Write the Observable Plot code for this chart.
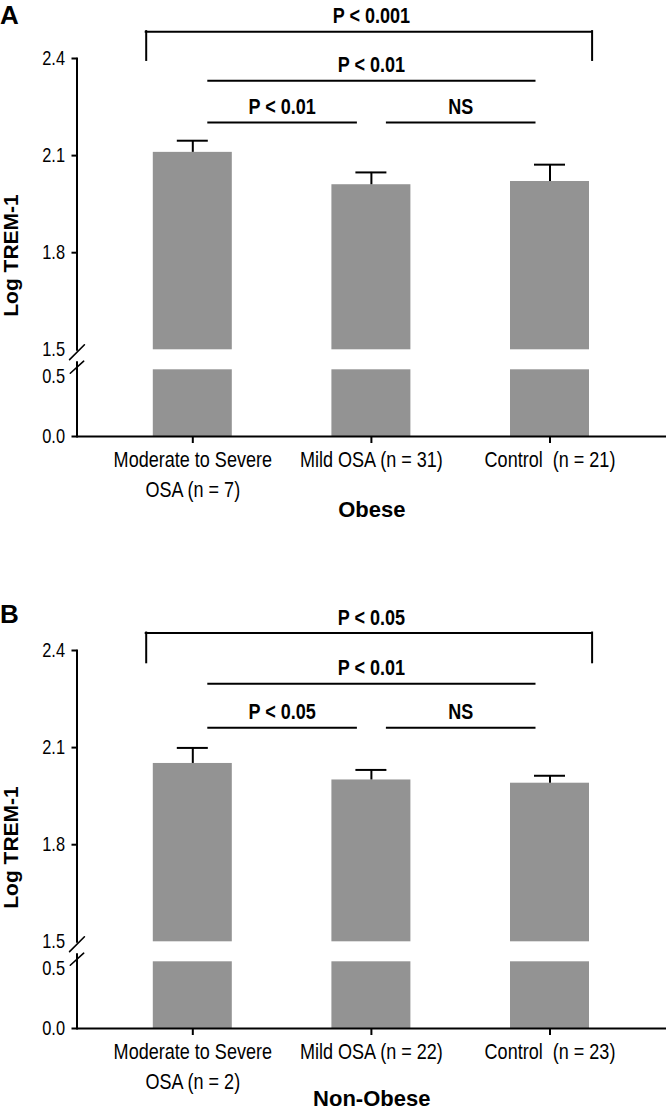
<!DOCTYPE html>
<html><head><meta charset="utf-8">
<script src="https://cdn.jsdelivr.net/npm/d3@7"></script>
<script src="https://cdn.jsdelivr.net/npm/@observablehq/plot@0.6"></script>
<style>
body{margin:0;background:#fff;}
#wrap{width:666px;}
.panel{position:relative;width:666px;}
.panel svg{display:block;}
.letter{position:absolute;left:0;font-family:"Liberation Sans",Arial,sans-serif;font-weight:bold;font-size:26px;line-height:26px;color:#000;}
</style></head><body><div id="wrap"></div>
<script>
// ---- data ----
const groupsA = ["Moderate to Severe\nOSA (n = 7)", "Mild OSA (n = 31)", "Control\u00a0 (n = 21)"];
const meansA = [2.110, 2.010, 2.020];
const semA = [0.036, 0.038, 0.052];
const groupsB = ["Moderate to Severe\nOSA (n = 2)", "Mild OSA (n = 22)", "Control\u00a0 (n = 23)"];
const meansB = [2.051, 2.000, 1.990];
const semB = [0.048, 0.031, 0.023];

const compFromA = [0, 0, 0, 1];
const compToA = [2, 2, 1, 2];
const compLabelA = ["P < 0.001", "P < 0.01", "P < 0.01", "NS"];
const compLevelA = [2.483, 2.331, 2.202, 2.202];
const bracketDropA = 2.394;

const compFromB = [0, 0, 0, 1];
const compToB = [2, 2, 1, 2];
const compLabelB = ["P < 0.05", "P < 0.01", "P < 0.05", "NS"];
const compLevelB = [2.454, 2.297, 2.161, 2.161];
const bracketDropB = 2.362;

const yTicksMarked = [0, 1.8, 2.1, 2.4];
const yTicksBreak = [0.5, 1.5];
const lowerSegment = [0, 0.56];
const upperSegment = [1.5, 2.4];

const NARROW = "'Liberation Sans',Arial,sans-serif";
const SANS = "Liberation Sans, Arial, sans-serif";
const BAR = "#939393";
const CONDENSE = 0.82;

const slash = {draw(context, l) { context.moveTo(0, 0); context.lineTo(0, -l); }};

function panel({groups, means, sem, from, to, labels, levels, drop, title, titleDy, height}) {
  const bars = groups.map((g, i) => ({i, g, mean: means[i], sem: sem[i]}));
  const comps = labels.map((t, k) => ({from: from[k], to: to[k], label: t, level: levels[k]}));
  const bracket = [{...comps[0], drop}];
  const lines = comps.slice(1);
  const bottom = 436, top = 58;
  const svg = Plot.plot({
    width: 666, height,
    marginLeft: 76.5, marginRight: 0, marginTop: top, marginBottom: height - bottom,
    style: {fontFamily: NARROW, color: "#000", background: "#fff"},
    x: {type: "linear", domain: [-0.5, 2.5], range: [103.0, 638.8]},
    y: {type: "linear", domain: [lowerSegment[0], lowerSegment[1], upperSegment[0], upperSegment[1]],
        range: [bottom, bottom - 66.7, bottom - 86.7, top]},
    marks: [
      Plot.rectY(bars, {x1: d => d.i - 0.5, x2: d => d.i + 0.5, y1: upperSegment[0], y2: "mean", insetLeft: 49.8, insetRight: 49.8, fill: BAR}),
      Plot.rectY(bars, {x1: d => d.i - 0.5, x2: d => d.i + 0.5, y1: lowerSegment[0], y2: lowerSegment[1], insetLeft: 49.8, insetRight: 49.8, fill: BAR}),
      Plot.ruleX(bars, {x: "i", y1: "mean", y2: d => d.mean + d.sem, stroke: "#000", strokeWidth: 2}),
      Plot.ruleY(bars, {y: d => d.mean + d.sem, x1: "i", x2: "i", insetLeft: -15.5, insetRight: -15.5, stroke: "#000", strokeWidth: 2}),
      Plot.ruleY([0], {stroke: "#000", strokeWidth: 2}),
      Plot.frame({anchor: "left", insetBottom: 86.7, stroke: "#000", strokeWidth: 2}),
      Plot.frame({anchor: "left", insetTop: (bottom - 74.3) - top, stroke: "#000", strokeWidth: 2}),
      Plot.vector([upperSegment[0]], {y: d => d, frameAnchor: "left", length: 21, rotate: 45, anchor: "middle", shape: slash, stroke: "#000", strokeWidth: 1.6, dy: 2.4}),
      Plot.vector([lowerSegment[1]], {y: d => d, frameAnchor: "left", length: 18, rotate: 48, anchor: "middle", shape: slash, stroke: "#000", strokeWidth: 1.6, dy: -2.6}),
      Plot.axisY({ticks: yTicksMarked, tickFormat: d3.format(".1f"), tickSize: 5, tickPadding: 7, fontSize: 20, strokeWidth: 2, label: null}),
      Plot.axisY({ticks: yTicksBreak, tickFormat: d3.format(".1f"), tickSize: 0, tickPadding: 12, fontSize: 20, label: null}),
      Plot.axisX({ticks: [0, 1, 2], tickFormat: i => groups[i], tickSize: 7, tickPadding: 2, fontSize: 22, lineHeight: 1.36, strokeWidth: 2, label: null}),
      Plot.ruleY(bracket, {y: "level", x1: "from", x2: "to", insetLeft: -46.6, insetRight: -42.1, stroke: "#000", strokeWidth: 2, strokeLinecap: "square"}),
      Plot.ruleX(bracket, {x: "from", y1: "level", y2: "drop", dx: -46.6, stroke: "#000", strokeWidth: 2, strokeLinecap: "square"}),
      Plot.ruleX(bracket, {x: "to", y1: "level", y2: "drop", dx: 42.1, stroke: "#000", strokeWidth: 2, strokeLinecap: "square"}),
      Plot.ruleY(lines, {y: "level", x1: "from", x2: "to", insetLeft: 15, insetRight: 14, stroke: "#000", strokeWidth: 2}),
      Plot.text(comps, {x: d => (d.from + d.to) / 2, y: "level", text: "label", dy: -15.5, fontWeight: "bold", fontSize: 22, fill: "#000"}),
      Plot.text(["Log TREM-1"], {frameAnchor: "left", text: d => d, textAnchor: "middle", lineAnchor: "middle", rotate: -90, dx: -65.5, dy: 8, fontWeight: "bold", fontSize: 21, fontFamily: SANS, fill: "#000"}),
      Plot.text([title], {frameAnchor: "bottom", text: d => d, textAnchor: "middle", lineAnchor: "middle", dy: titleDy, fontWeight: "bold", fontSize: 22, fontFamily: SANS, fill: "#000"})
    ]
  });
  // condense the Arial-metric text horizontally (Arial Narrow look) except the wide titles
  d3.select(svg).selectAll("text").each(function() {
    const fam = this.closest("[font-family]");
    if (fam && fam.getAttribute("font-family") === SANS) return;
    const t = this.getAttribute("transform") || "";
    let x = parseFloat(this.getAttribute("x"));
    if (!isFinite(x)) x = 0;
    this.setAttribute("transform", `${t} translate(${x},0) scale(${CONDENSE},1) translate(${-x},0)`);
  });
  return svg;
}

const wrap = document.getElementById("wrap");
function addPanel(letter, letterTop, svg) {
  const div = document.createElement("div");
  div.className = "panel";
  div.appendChild(svg);
  const l = document.createElement("div");
  l.className = "letter";
  l.style.top = letterTop + "px";
  l.textContent = letter;
  div.appendChild(l);
  wrap.appendChild(div);
}
addPanel("A", 2, panel({groups: groupsA, means: meansA, sem: semA, from: compFromA, to: compToA, labels: compLabelA, levels: compLevelA, drop: bracketDropA, title: "Obese", titleDy: 73, height: 592}));
addPanel("B", 9, panel({groups: groupsB, means: meansB, sem: semB, from: compFromB, to: compToB, labels: compLabelB, levels: compLevelB, drop: bracketDropB, title: "Non-Obese", titleDy: 70, height: 519}));
</script>
</body></html>
